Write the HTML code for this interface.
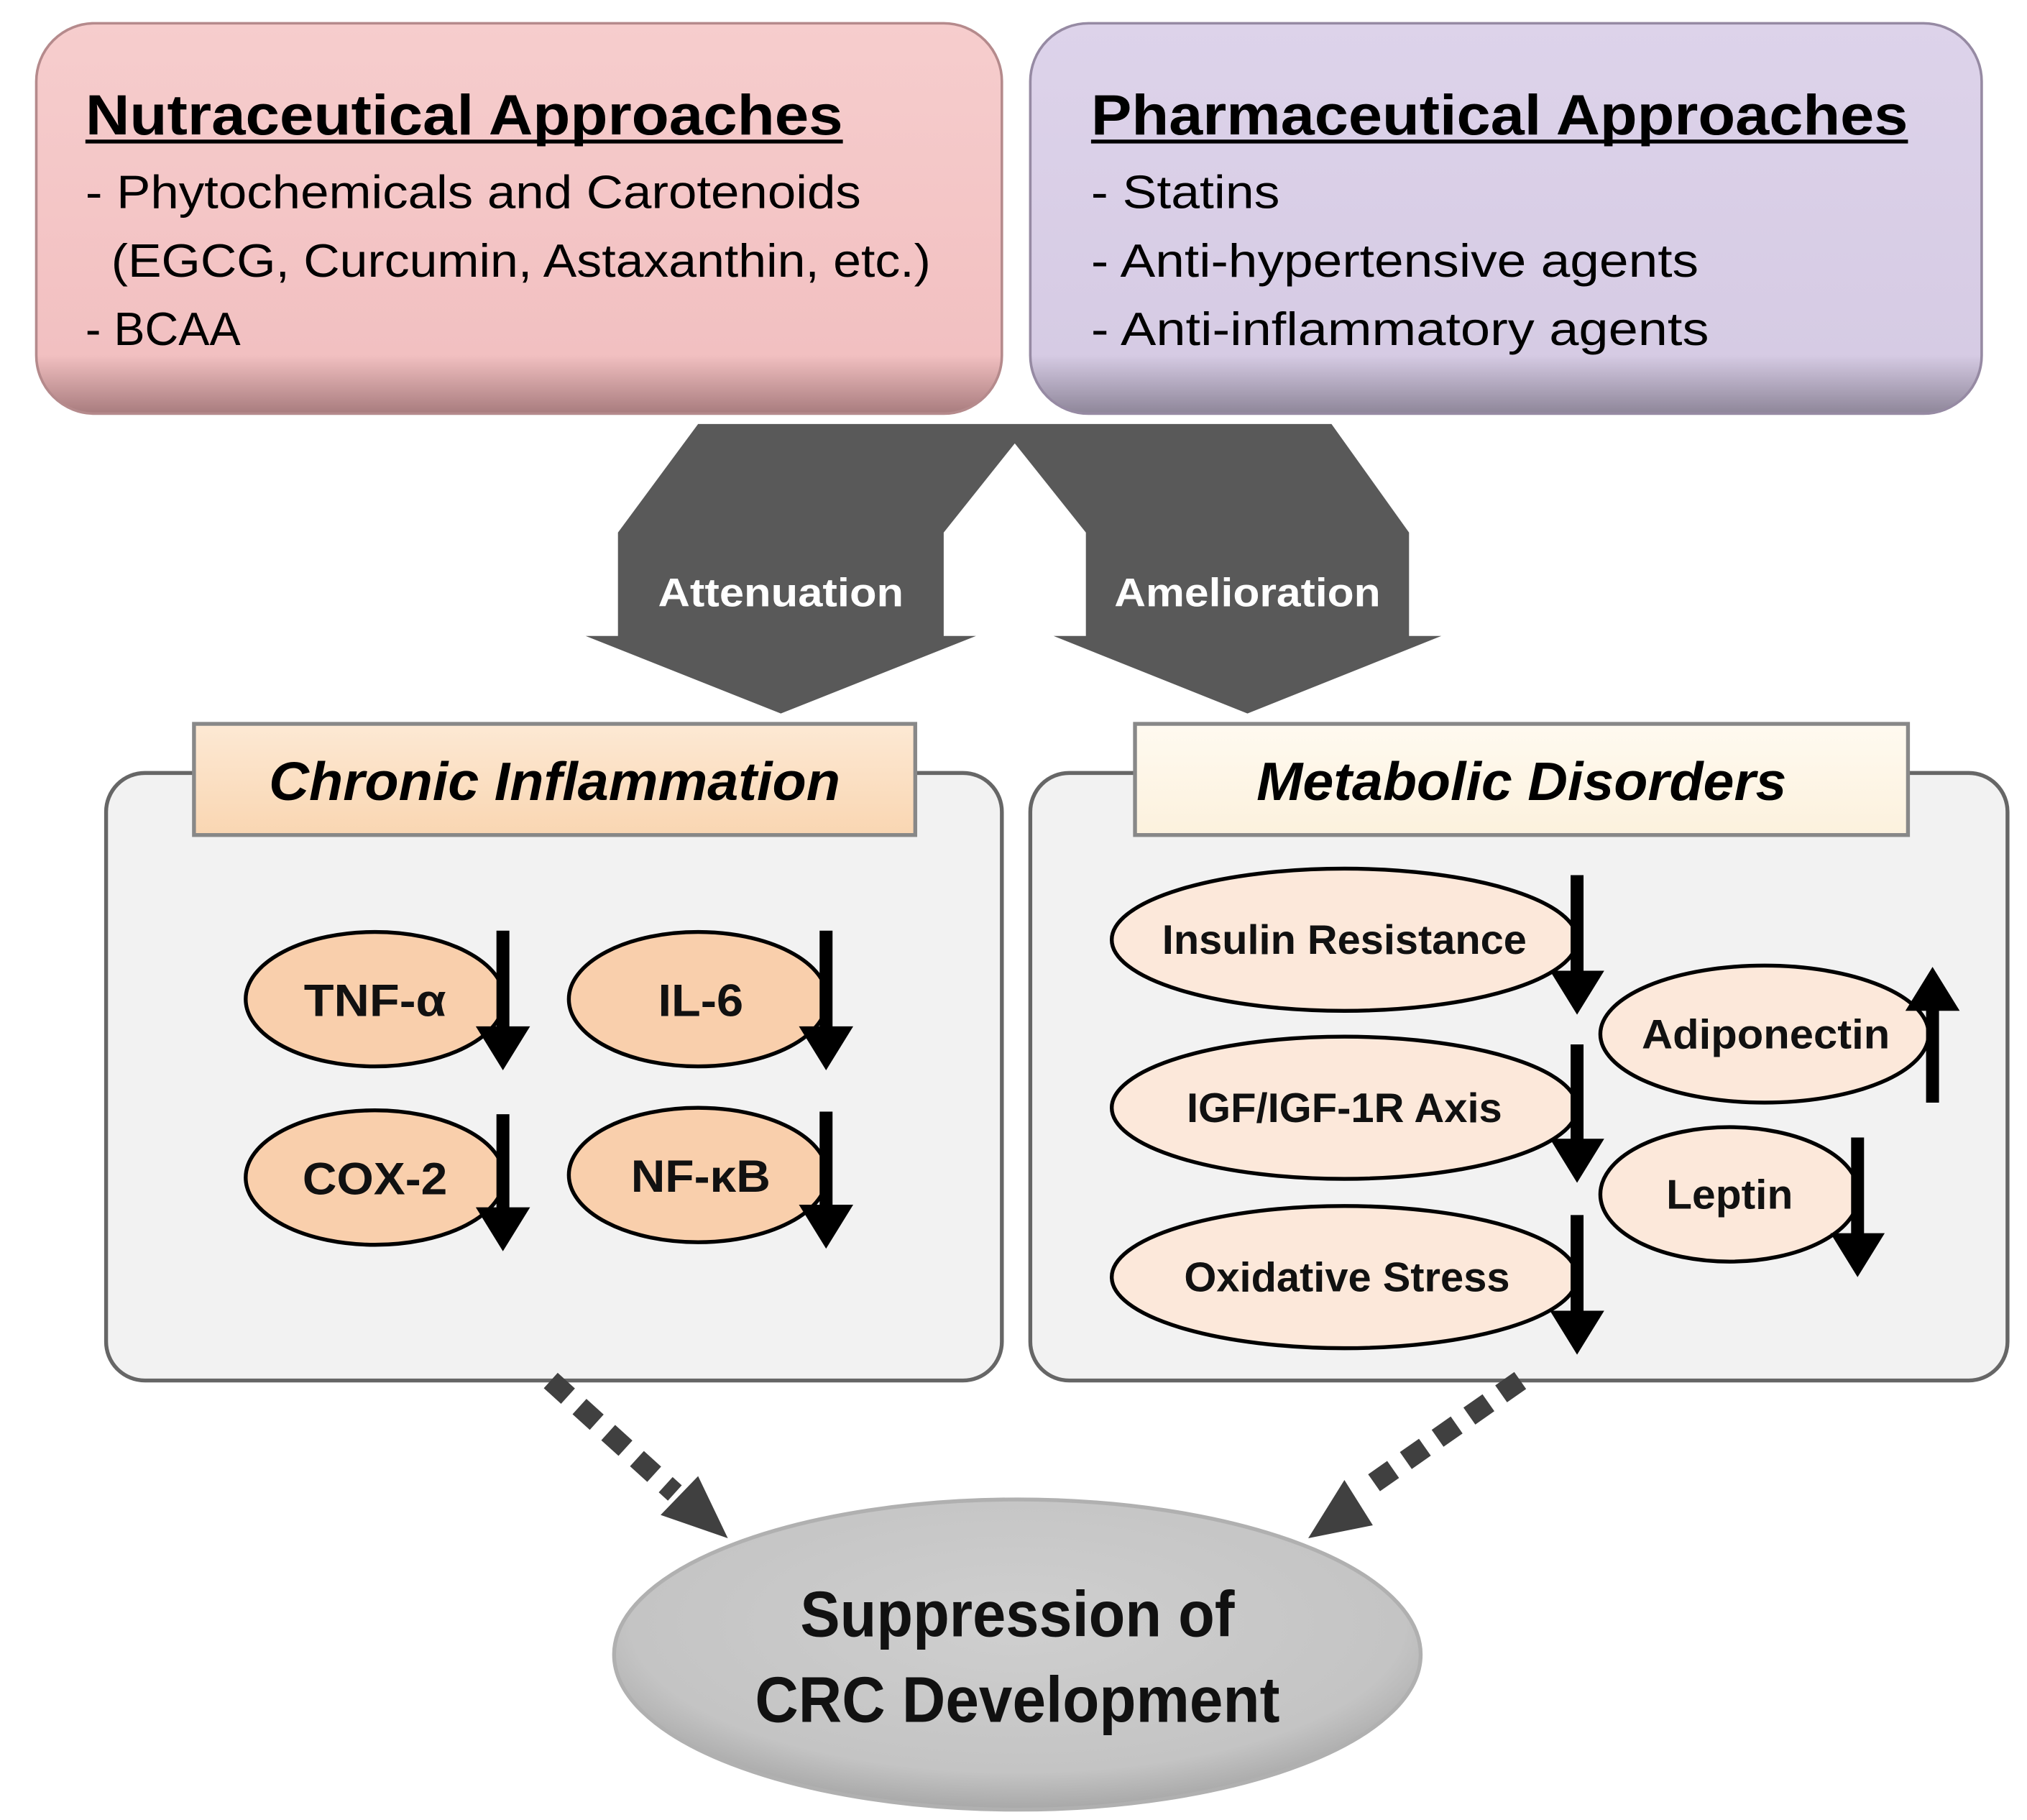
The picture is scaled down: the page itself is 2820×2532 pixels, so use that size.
<!DOCTYPE html>
<html><head><meta charset="utf-8"><style>html,body{margin:0;padding:0;background:#fff}svg{display:block}</style></head>
<body>
<svg width="2820" height="2532" viewBox="0 0 1568 1408" xmlns="http://www.w3.org/2000/svg" font-family="Liberation Sans, sans-serif">
<defs>
<linearGradient id="pk" x1="0" y1="0" x2="0" y2="1"><stop offset="0" stop-color="#f6cdcd"/><stop offset="0.85" stop-color="#f2c0c1"/><stop offset="1" stop-color="#a87c7e"/></linearGradient>
<linearGradient id="pu" x1="0" y1="0" x2="0" y2="1"><stop offset="0" stop-color="#ddd3ea"/><stop offset="0.85" stop-color="#d6cbe4"/><stop offset="1" stop-color="#8e8699"/></linearGradient>
<linearGradient id="b1" x1="0" y1="0" x2="0" y2="1"><stop offset="0" stop-color="#fde9d4"/><stop offset="1" stop-color="#f9d6b2"/></linearGradient>
<linearGradient id="b2" x1="0" y1="0" x2="0" y2="1"><stop offset="0" stop-color="#fffaf0"/><stop offset="1" stop-color="#fcf1dd"/></linearGradient>
<radialGradient id="gr" cx="0.5" cy="0.4" r="0.6"><stop offset="0" stop-color="#cfcfcf"/><stop offset="0.8" stop-color="#c4c4c4"/><stop offset="1" stop-color="#a8a8a8"/></radialGradient>
</defs>
<rect x="28" y="18" width="747" height="302" rx="45" fill="url(#pk)" stroke="#b58a8c" stroke-width="2"/>
<rect x="797" y="18" width="736" height="302" rx="45" fill="url(#pu)" stroke="#968aa3" stroke-width="2"/>
<g font-weight="bold" font-size="44" fill="#000">
<text x="66" y="104" textLength="586" lengthAdjust="spacingAndGlyphs">Nutraceutical Approaches</text>
<text x="844" y="104" textLength="632" lengthAdjust="spacingAndGlyphs">Pharmaceutical Approaches</text>
</g>
<rect x="66" y="108" width="586" height="3" fill="#000"/>
<rect x="844" y="108" width="632" height="3" fill="#000"/>
<g font-size="36" fill="#000">
<text x="66" y="161" textLength="600" lengthAdjust="spacingAndGlyphs">- Phytochemicals and Carotenoids</text>
<text x="86" y="214" textLength="634" lengthAdjust="spacingAndGlyphs">(EGCG, Curcumin, Astaxanthin, etc.)</text>
<text x="66" y="267" textLength="120" lengthAdjust="spacingAndGlyphs">- BCAA</text>
<text x="844" y="161" textLength="146" lengthAdjust="spacingAndGlyphs">- Statins</text>
<text x="844" y="214" textLength="470" lengthAdjust="spacingAndGlyphs">- Anti-hypertensive agents</text>
<text x="844" y="267" textLength="478" lengthAdjust="spacingAndGlyphs">- Anti-inflammatory agents</text>
</g>
<path d="M540 328 L1030 328 L1090 412 L1090 492 L1115 492 L965 552 L815 492 L840 492 L840 412 L785 343 L730 412 L730 492 L755 492 L604 552 L453 492 L478 492 L478 412 Z" fill="#595959"/>
<g font-weight="bold" font-size="31" fill="#fff" text-anchor="middle">
<text x="604" y="469" textLength="190" lengthAdjust="spacingAndGlyphs">Attenuation</text>
<text x="965" y="469" textLength="206" lengthAdjust="spacingAndGlyphs">Amelioration</text>
</g>
<rect x="82" y="598" width="693" height="470" rx="30" fill="#f2f2f2" stroke="#666" stroke-width="3"/>
<rect x="797" y="598" width="756" height="470" rx="30" fill="#f2f2f2" stroke="#666" stroke-width="3"/>
<rect x="150" y="560" width="558" height="86" fill="url(#b1)" stroke="#888" stroke-width="3"/>
<rect x="878" y="560" width="598" height="86" fill="url(#b2)" stroke="#888" stroke-width="3"/>
<g font-weight="bold" font-style="italic" font-size="42" fill="#000" text-anchor="middle">
<text x="429" y="619" textLength="442" lengthAdjust="spacingAndGlyphs">Chronic Inflammation</text>
<text x="1177" y="619" textLength="410" lengthAdjust="spacingAndGlyphs">Metabolic Disorders</text>
</g>
<g fill="#f9cfac" stroke="#000" stroke-width="3">
<ellipse cx="290" cy="773" rx="100" ry="52"/>
<ellipse cx="540" cy="773" rx="100" ry="52"/>
<ellipse cx="290" cy="911" rx="100" ry="52"/>
<ellipse cx="540" cy="909" rx="100" ry="52"/>
</g>
<g fill="#fce8da" stroke="#000" stroke-width="3">
<ellipse cx="1040" cy="727" rx="180" ry="55"/>
<ellipse cx="1040" cy="857" rx="180" ry="55"/>
<ellipse cx="1040" cy="988" rx="180" ry="55"/>
<ellipse cx="1365" cy="800" rx="127" ry="53"/>
<ellipse cx="1338" cy="924" rx="100" ry="52"/>
</g>
<g font-weight="bold" font-size="35" fill="#111" text-anchor="middle">
<text x="290" y="786" textLength="110" lengthAdjust="spacingAndGlyphs">TNF-α</text>
<text x="542" y="786" textLength="66" lengthAdjust="spacingAndGlyphs">IL-6</text>
<text x="290" y="924" textLength="112" lengthAdjust="spacingAndGlyphs">COX-2</text>
<text x="542" y="922" textLength="108" lengthAdjust="spacingAndGlyphs">NF-κB</text>
</g>
<g font-weight="bold" font-size="32" fill="#111" text-anchor="middle">
<text x="1040" y="738" textLength="282" lengthAdjust="spacingAndGlyphs">Insulin Resistance</text>
<text x="1040" y="868" textLength="244" lengthAdjust="spacingAndGlyphs">IGF/IGF-1R Axis</text>
<text x="1042" y="999" textLength="252" lengthAdjust="spacingAndGlyphs">Oxidative Stress</text>
<text x="1366" y="811" textLength="192" lengthAdjust="spacingAndGlyphs">Adiponectin</text>
<text x="1338" y="935" textLength="98" lengthAdjust="spacingAndGlyphs">Leptin</text>
</g>
<g fill="#000">
<path d="M384 720 h10 v74 h16 l-21 34 l-21 -34 h16 Z"/>
<path d="M634 720 h10 v74 h16 l-21 34 l-21 -34 h16 Z"/>
<path d="M384 862 h10 v72 h16 l-21 34 l-21 -34 h16 Z"/>
<path d="M634 860 h10 v72 h16 l-21 34 l-21 -34 h16 Z"/>
<path d="M1215 677 h10 v74 h16 l-21 34 l-21 -34 h16 Z"/>
<path d="M1215 808 h10 v73 h16 l-21 34 l-21 -34 h16 Z"/>
<path d="M1215 940 h10 v74 h16 l-21 34 l-21 -34 h16 Z"/>
<path d="M1432 880 h10 v74 h16 l-21 34 l-21 -34 h16 Z"/>
<path d="M1490 853 h10 v-71 h16 l-21 -34 l-21 34 h16 Z"/>
</g>
<g stroke="#404040" stroke-width="16" stroke-dasharray="18 12" fill="none">
<line x1="426" y1="1068" x2="522" y2="1155"/>
<line x1="1176" y1="1068" x2="1056" y2="1152"/>
</g>
<path d="M563 1190 L511 1172 L540 1142 Z" fill="#404040"/>
<path d="M1012 1190 L1040 1145 L1062 1180 Z" fill="#404040"/>
<ellipse cx="787" cy="1280" rx="312" ry="120" fill="url(#gr)" stroke="#b0b0b0" stroke-width="3"/>
<g font-weight="bold" font-size="50" fill="#111" text-anchor="middle">
<text x="787" y="1266" textLength="336" lengthAdjust="spacingAndGlyphs">Suppression of</text>
<text x="787" y="1332" textLength="406" lengthAdjust="spacingAndGlyphs">CRC Development</text>
</g>
</svg>
</body></html>
